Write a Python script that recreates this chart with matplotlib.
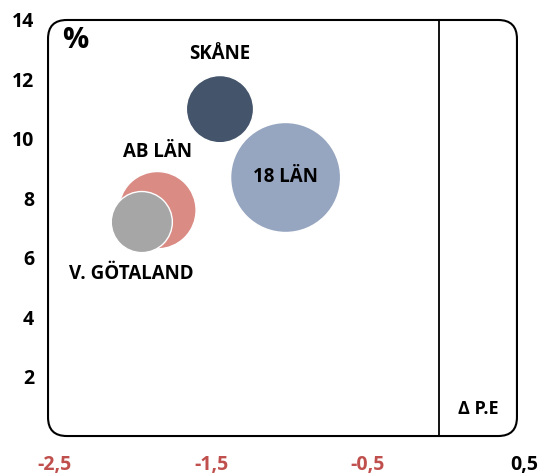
import numpy as np
import matplotlib.pyplot as plt
from matplotlib.patches import FancyBboxPatch
from matplotlib.transforms import ScaledTranslation

# Data
regions = ['AB LÄN', 'V. GÖTALAND', 'SKÅNE', '18 LÄN']
delta_pe = [-1.80, -1.90, -1.40, -0.98]
percent = [7.6, 7.2, 11.0, 8.7]
bubble_size = [1.44, 0.90, 1.09, 2.92]
colors = ['#D98B84', '#A6A6A6', '#44546A', '#97A6C0']

xticks = [-2.5, -1.5, -0.5, 0.5]
xtick_labels = ['-2,5', '-1,5', '-0,5', '0,5']
xtick_colors = ['#C0504D', '#C0504D', '#C0504D', 'black']
yticks = [2, 4, 6, 8, 10, 12, 14]


def main():
    plt.rcParams['font.family'] = ['Open Sans', 'DejaVu Sans']
    plt.rcParams['font.weight'] = 'bold'

    fig = plt.figure(figsize=(5.39, 4.76), dpi=100)
    ax = fig.add_axes([0.0891, 0.084, 0.870, 0.874])
    ax.set_xlim(-2.5, 0.5)
    ax.set_ylim(0, 14)

    # bubble area proportional to size value
    sizes = np.array(bubble_size) * 2150
    ax.scatter(delta_pe, percent, s=sizes, c=colors, edgecolors='white',
               linewidths=1.0, zorder=3)

    # region labels
    fs = 13.5
    ax.text(delta_pe[0], percent[0] + 1.95, regions[0], ha='center', va='center',
            fontsize=fs, fontweight='bold')
    ax.text(delta_pe[1] - 0.07, percent[1] - 1.75, regions[1], ha='center', va='center',
            fontsize=fs, fontweight='bold')
    ax.text(delta_pe[2], percent[2] + 1.85, regions[2], ha='center', va='center',
            fontsize=fs, fontweight='bold')
    ax.text(delta_pe[3], percent[3], regions[3], ha='center', va='center',
            fontsize=fs, fontweight='bold', zorder=4)

    ax.text(0.03, 0.95, '%', transform=ax.transAxes, ha='left', va='center',
            fontsize=21, fontweight='bold')
    ax.text(0.918, 0.065, 'Δ P.E', transform=ax.transAxes, ha='center', va='center',
            fontsize=13, fontweight='bold')

    # vertical line at zero
    ax.axvline(0, color='black', linewidth=1.3, zorder=2)

    # rounded frame
    for s in ax.spines.values():
        s.set_visible(False)
    bbox = ax.get_position()
    aspect = (bbox.width * 5.39) / (bbox.height * 4.76)
    frame = FancyBboxPatch((0, 0), 1, 1, boxstyle='round,pad=0,rounding_size=0.04',
                           mutation_aspect=aspect, transform=ax.transAxes,
                           facecolor='none', edgecolor='black', linewidth=1.5,
                           clip_on=False, zorder=5)
    ax.add_patch(frame)

    ax.set_xticks(xticks)
    ax.set_xticklabels(xtick_labels)
    ax.set_yticks(yticks)
    ax.tick_params(axis='both', length=0, labelsize=14)
    ax.tick_params(axis='x', pad=14)
    ax.tick_params(axis='y', pad=10)
    offset = ScaledTranslation(5 / 72, 0, fig.dpi_scale_trans)
    for lbl, col in zip(ax.get_xticklabels(), xtick_colors):
        lbl.set_color(col)
        lbl.set_fontweight('bold')
        lbl.set_transform(lbl.get_transform() + offset)
    for lbl in ax.get_yticklabels():
        lbl.set_fontweight('bold')

    plt.savefig('out.png', dpi=100)


if __name__ == '__main__':
    main()
